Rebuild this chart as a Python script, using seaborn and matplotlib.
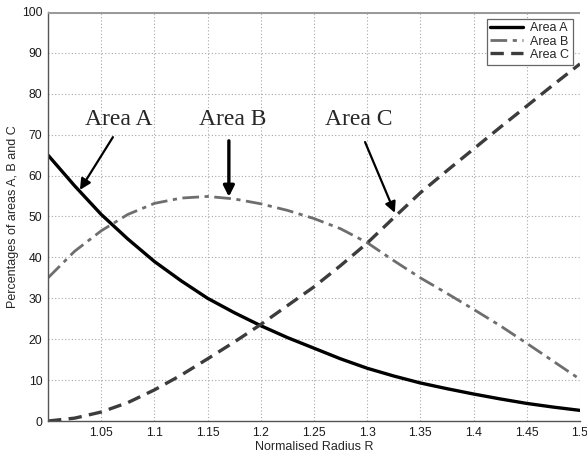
import matplotlib
matplotlib.use("Agg")
import matplotlib.pyplot as plt
import seaborn as sns
import pandas as pd

radius = [1.0, 1.025, 1.05, 1.075, 1.1, 1.125, 1.15, 1.175, 1.2, 1.225, 1.25,
          1.275, 1.3, 1.325, 1.35, 1.375, 1.4, 1.425, 1.45, 1.475, 1.5]
area_a = [65, 57.5, 50.5, 44.5, 39, 34.3, 30, 26.5, 23.3, 20.4, 17.8,
          15.2, 12.9, 11, 9.3, 7.9, 6.6, 5.4, 4.3, 3.4, 2.6]
area_b = [35, 41.5, 46.5, 50.5, 53.2, 54.5, 54.9, 54.3, 53.1, 51.5, 49.5,
          47, 43.6, 39.2, 35, 31.2, 27.3, 23.3, 19, 14.6, 10.2]
area_c = [0, 0.7, 2.2, 4.5, 7.6, 11.2, 15.2, 19.3, 23.6, 28.2, 32.8,
          38, 43.5, 49.7, 55.8, 61.2, 66.5, 71.8, 77, 82.2, 87.3]
series_names = ["Area A", "Area B", "Area C"]
x_ticks = [1.05, 1.1, 1.15, 1.2, 1.25, 1.3, 1.35, 1.4, 1.45, 1.5]
x_tick_labels = ["1.05", "1.1", "1.15", "1.2", "1.25", "1.3", "1.35", "1.4", "1.45", "1.5"]
y_ticks = [0, 10, 20, 30, 40, 50, 60, 70, 80, 90, 100]

sns.set_style("white")
plt.rcParams["font.family"] = ["Liberation Sans", "DejaVu Sans"]

df = pd.DataFrame({"R": radius * 3,
                   "value": area_a + area_b + area_c,
                   "series": [series_names[0]] * len(radius)
                   + [series_names[1]] * len(radius)
                   + [series_names[2]] * len(radius)})

fig = plt.figure(figsize=(5.87, 4.55), dpi=100)
ax = fig.add_axes([0.0818, 0.0747, 0.9062, 0.899])

styles = {
    "Area A": dict(color="black", lw=2.4, ls="-"),
    "Area B": dict(color="#6e6e6e", lw=2.0, ls=(0, (6, 2, 1.5, 2))),
    "Area C": dict(color="#3c3c3c", lw=2.4, ls=(0, (4, 2.2))),
}
for name in series_names:
    sub = df[df["series"] == name]
    sns.lineplot(data=sub, x="R", y="value", ax=ax, label=name,
                 color=styles[name]["color"], linewidth=styles[name]["lw"],
                 linestyle=styles[name]["ls"])

ax.axhline(100, color="#9a9a9a", lw=2.2, zorder=3)

ax.set_xlim(1.0, 1.5)
ax.set_ylim(0, 100)
ax.set_xticks(x_ticks)
ax.set_xticklabels(x_tick_labels)
ax.set_yticks(y_ticks)
ax.tick_params(labelsize=8.8, length=0, pad=4, colors="#1a1a1a")
ax.grid(True, color="#a8a8a8", linestyle=(0, (1, 2)), linewidth=0.8)
for s in ["top", "right"]:
    ax.spines[s].set_visible(False)
for s in ["left", "bottom"]:
    ax.spines[s].set_color("#555555")
    ax.spines[s].set_linewidth(1.0)

ax.set_xlabel("Normalised Radius R", fontsize=9, labelpad=2)
ax.set_ylabel("Percentages of areas A, B and C", fontsize=9, labelpad=2)

leg = ax.legend(loc="upper right", bbox_to_anchor=(0.992, 0.99), fontsize=9,
                frameon=True, fancybox=False, edgecolor="#666666",
                framealpha=1, borderpad=0.3, labelspacing=0.1,
                handlelength=2.6, handletextpad=0.6, borderaxespad=0.2)
leg.get_frame().set_linewidth(0.9)

ann_font = dict(family=["Liberation Serif", "DejaVu Serif"], fontsize=17)
arrow = dict(arrowstyle="-|>", color="black", lw=1.6, mutation_scale=16,
             shrinkA=0, shrinkB=0)
ax.annotate("Area A", xy=(1.0667, 73.6), ha="center", va="center", **ann_font)
ax.annotate("", xy=(1.030, 56.5), xytext=(1.061, 69.4), arrowprops=arrow)
ax.annotate("Area B", xy=(1.174, 73.6), ha="center", va="center", **ann_font)
ax.annotate("", xy=(1.170, 54.8), xytext=(1.170, 68.5),
            arrowprops=dict(arrow, lw=2.4))
ax.annotate("Area C", xy=(1.292, 73.6), ha="center", va="center", **ann_font)
ax.annotate("", xy=(1.326, 50.9), xytext=(1.298, 68.2), arrowprops=arrow)

fig.savefig("out.png", dpi=100)
